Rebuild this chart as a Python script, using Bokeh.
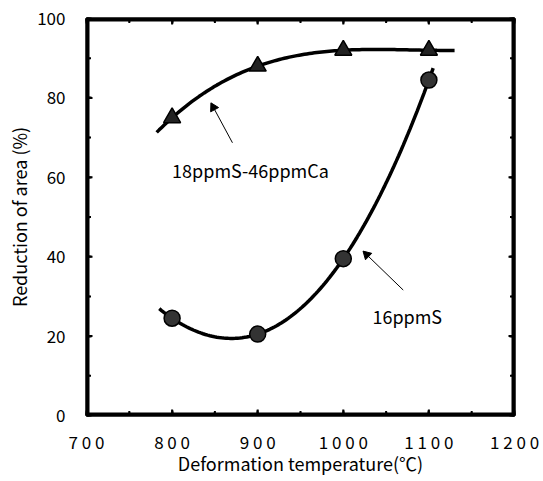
import math
import numpy as np
from bokeh.plotting import figure
from bokeh.models import LinearAxis, SingleIntervalTicker, Range1d, Label
from bokeh.embed import file_html
from bokeh.resources import INLINE

temps = [800, 900, 1000, 1100]
ca_vals = [75, 88, 92, 92]          # 18ppmS-46ppmCa (triangles)
s_vals = [24.5, 20.5, 39.5, 84.5]   # 16ppmS (circles)
x_ticks = [700, 800, 900, 1000, 1100, 1200]
x_tick_labels = ["7 0 0", "8 0 0", "9 0 0", "1 0 0 0", "1 1 0 0", "1 2 0 0"]
y_ticks = [0, 20, 40, 60, 80, 100]

# annotation arrows: (start x, start y, end x, end y)
arrow_start_x = [870.5, 1070]
arrow_start_y = [68.7, 31.6]
arrow_end_x = [846, 1024]
arrow_end_y = [78.5, 41.2]

FONT = "Noto Sans CJK JP"
W, H = 540, 478
BL, BT, BR, BB = 86, 18, 26, 61

x0, x1 = x_ticks[0], x_ticks[-1]
y0, y1 = y_ticks[0], y_ticks[-1]

p = figure(width=W, height=H, output_backend="svg", toolbar_location=None,
           x_range=Range1d(x0, x1), y_range=Range1d(y0, y1),
           min_border_left=BL, min_border_top=BT, min_border_right=BR, min_border_bottom=BB)
p.grid.visible = False
p.outline_line_color = "black"
p.outline_line_width = 2


def style_axis(ax, labels=True):
    ax.axis_line_width = 2
    ax.axis_line_color = "black"
    ax.major_tick_in = 5
    ax.major_tick_out = 0
    ax.minor_tick_in = 3
    ax.minor_tick_out = 0
    ax.major_tick_line_width = 2
    ax.minor_tick_line_width = 2
    ax.major_tick_line_color = "black"
    ax.minor_tick_line_color = "black"
    ax.major_label_text_font = FONT
    if labels:
        ax.major_label_text_font_size = "17px"
        ax.major_label_text_color = "black"
    else:
        ax.major_label_text_font_size = "1px"
        ax.major_label_text_color = None
        ax.major_label_standoff = 0


p.xaxis.ticker = SingleIntervalTicker(interval=100, num_minor_ticks=2)
p.yaxis.ticker = SingleIntervalTicker(interval=20, num_minor_ticks=2)
p.xaxis.major_label_overrides = {t: l for t, l in zip(x_ticks, x_tick_labels)}
style_axis(p.xaxis[0])
style_axis(p.yaxis[0])
p.xaxis.major_label_standoff = 13
p.yaxis.major_label_standoff = 21
p.xaxis.axis_label = "Deformation temperature(℃)"
p.yaxis.axis_label = "Reduction of area (%)"
for ax in (p.xaxis[0], p.yaxis[0]):
    ax.axis_label_text_font = FONT
    ax.axis_label_text_font_size = "18px"
    ax.axis_label_text_font_style = "normal"
    ax.axis_label_text_color = "black"
p.xaxis.axis_label_standoff = -7
p.yaxis.axis_label_standoff = 2

top = LinearAxis(ticker=SingleIntervalTicker(interval=100, num_minor_ticks=2))
style_axis(top, labels=False)
p.add_layout(top, "above")
right = LinearAxis(ticker=SingleIntervalTicker(interval=20, num_minor_ticks=2))
style_axis(right, labels=False)
p.add_layout(right, "right")

px_x = (W - BL - BR) / (x1 - x0)   # screen px per x unit
px_y = (H - BT - BB) / (y1 - y0)   # screen px per y unit

# frame drawn as thin filled bands just inside the plot area
fw = 3.0
p.quad(left=[x0, x1 - fw / px_x, x0, x0], right=[x0 + fw / px_x, x1, x1, x1],
       bottom=[y0, y0, y0, y1 - fw / px_y], top=[y1, y1, y0 + fw / px_y, y1],
       fill_color="black", line_color=None)

# inward ticks on all four sides, as small filled bars
x_minor = [(a + b) / 2 for a, b in zip(x_ticks[:-1], x_ticks[1:])]
y_minor = [(a + b) / 2 for a, b in zip(y_ticks[:-1], y_ticks[1:])]
tw = 1.0  # half tick thickness in px
for xs, ln in ((x_ticks[1:-1], 6.0), (x_minor, 4.5)):
    n = len(xs)
    p.quad(left=[x - tw / px_x for x in xs], right=[x + tw / px_x for x in xs],
           bottom=[y0] * n, top=[y0 + ln / px_y] * n, fill_color="black", line_color=None)
    p.quad(left=[x - tw / px_x for x in xs], right=[x + tw / px_x for x in xs],
           bottom=[y1 - ln / px_y] * n, top=[y1] * n, fill_color="black", line_color=None)
for ys, ln in ((y_ticks[1:-1], 6.0), (y_minor, 4.5)):
    n = len(ys)
    p.quad(left=[x0] * n, right=[x0 + ln / px_x] * n,
           bottom=[y - tw / px_y for y in ys], top=[y + tw / px_y for y in ys],
           fill_color="black", line_color=None)
    p.quad(left=[x1 - ln / px_x] * n, right=[x1] * n,
           bottom=[y - tw / px_y for y in ys], top=[y + tw / px_y for y in ys],
           fill_color="black", line_color=None)

# smooth curves through the data (cubic fit)
xs_s = np.linspace(785, 1105, 120)
ys_s = np.polyval(np.polyfit(temps, s_vals, 3), xs_s)
xs_c = np.linspace(782, 1130, 120)
ys_c = np.polyval(np.polyfit(temps, ca_vals, 3), xs_c)

p.line(xs_s, ys_s, line_color="black", line_width=3.5)
p.line(xs_c, ys_c, line_color="black", line_width=3.5)

p.scatter(temps, ca_vals, marker="triangle", size=17, fill_color="#222222", line_color="black", line_width=1.5)
p.scatter(temps, s_vals, marker="circle", size=16, fill_color="#333333", line_color="black", line_width=1.5)

# arrows drawn as glyphs: shaft + rotated triangular head
head_size = 9
head_x, head_y, head_ang = [], [], []
for sx, sy, ex, ey in zip(arrow_start_x, arrow_start_y, arrow_end_x, arrow_end_y):
    dx, dy = (ex - sx) * px_x, (ey - sy) * px_y
    phi = math.atan2(dy, dx)
    back = head_size * 0.45
    head_x.append(ex - math.cos(phi) * back / px_x)
    head_y.append(ey - math.sin(phi) * back / px_y)
    head_ang.append(phi - math.pi / 2)
p.segment(x0=arrow_start_x, y0=arrow_start_y, x1=arrow_end_x, y1=arrow_end_y,
          line_color="black", line_width=1)
p.scatter(head_x, head_y, marker="triangle", size=head_size, angle=head_ang,
          fill_color="black", line_color="black", line_width=1)

p.add_layout(Label(x=800, y=61.9, text="18ppmS-46ppmCa", text_font=FONT, text_font_size="18px",
                   text_baseline="middle", text_color="black"))
p.add_layout(Label(x=1034, y=25.1, text="16ppmS", text_font=FONT, text_font_size="18px",
                   text_baseline="middle", text_color="black"))

open("out.html", "w").write(file_html(p, INLINE))
